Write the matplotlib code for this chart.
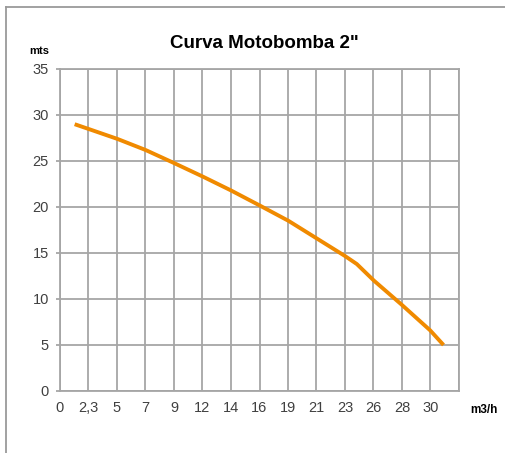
import matplotlib
matplotlib.use("Agg")
import matplotlib.pyplot as plt
from matplotlib.lines import Line2D

# Data
flow = [1.2, 2.3, 4.7, 7.0, 9.3, 11.7, 14.0, 16.3, 18.7, 21.0, 23.3, 24.3, 25.7, 28.0, 30.3, 31.4]
head = [29.0, 28.5, 27.4, 26.2, 24.8, 23.3, 21.8, 20.2, 18.5, 16.6, 14.7, 13.8, 12.0, 9.35, 6.6, 5.0]

x_step = 7 / 3
x_labels = ["0", "2,3", "5", "7", "9", "12", "14", "16", "19", "21", "23", "26", "28", "30", ""]
y_ticks = [0, 5, 10, 15, 20, 25, 30, 35]

title = 'Curva Motobomba 2"'
y_unit = "mts"
x_unit = "m3/h"

W, H = 506, 453
fig = plt.figure(figsize=(W / 100, H / 100), dpi=100)
fig.patch.set_facecolor("white")

ax = fig.add_axes([60 / W, (H - 391) / H, (459 - 60) / W, (391 - 69) / H])
grid_c = "#A6A6A6"
ax.plot(flow, head, color="#F08A00", lw=2.8, solid_capstyle="butt",
        solid_joinstyle="round", zorder=3)

x_ticks = [i * x_step for i in range(len(x_labels))]
ax.set_xlim(0, x_ticks[-1])
ax.set_ylim(0, 35)
ax.set_xticks(x_ticks)
ax.set_xticklabels(x_labels)
ax.set_yticks(y_ticks)
ax.grid(True, color=grid_c, lw=1.3, zorder=1)
ax.set_axisbelow(True)
for s in ax.spines.values():
    s.set_color(grid_c)
    s.set_linewidth(1.3)

tick_font = ["Liberation Sans Narrow", "Liberation Sans", "DejaVu Sans"]
ax.tick_params(axis="x", length=0, pad=7, labelsize=10.5, labelcolor="#404040")
ax.tick_params(axis="y", length=3, width=1.3, color=grid_c, pad=5, labelsize=10.5, labelcolor="#404040")
for lab in ax.get_xticklabels() + ax.get_yticklabels():
    lab.set_family(tick_font)

fig.text(264 / W, 1 - 43 / H, title, ha="center", va="center", fontsize=13.5,
         fontweight="bold", family=["Liberation Sans", "DejaVu Sans"], color="black")
fig.text(39 / W, 1 - 51 / H, y_unit, ha="center", va="center", fontsize=8,
         fontweight="bold", family=["Liberation Sans", "DejaVu Sans"], color="black")
fig.text(484 / W, 1 - 410 / H, x_unit, ha="center", va="center", fontsize=8.5,
         fontweight="bold", family=["Liberation Sans", "DejaVu Sans"], color="black")

# chart border (left and top visible)
bc = "#9A9A9A"
fig.add_artist(Line2D([6.5 / W, 6.5 / W], [0, 1 - 6.5 / H], color=bc, lw=1.3, transform=fig.transFigure))
fig.add_artist(Line2D([6.5 / W, 1], [1 - 6.5 / H, 1 - 6.5 / H], color=bc, lw=1.3, transform=fig.transFigure))

fig.savefig("out.png", dpi=100)
